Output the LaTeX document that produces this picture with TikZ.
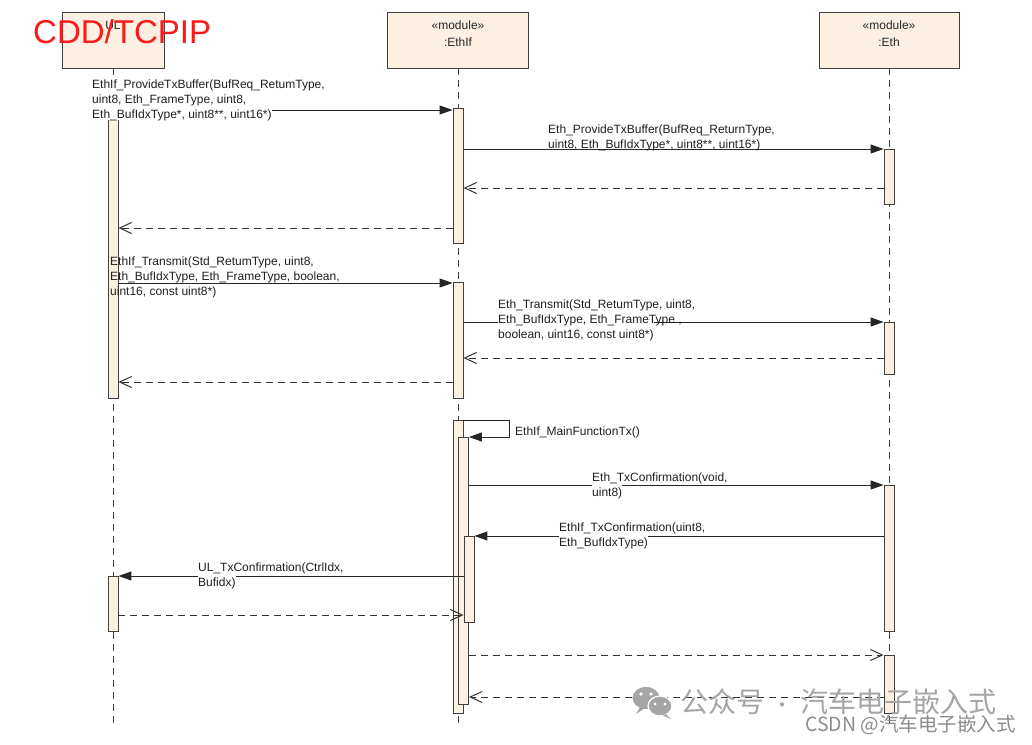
\documentclass[tikz,border=0pt]{standalone}
\usepackage{fontspec}
\setmainfont{Liberation Sans}
\newfontfamily\cjk{Noto Sans CJK SC}
\usetikzlibrary{arrows.meta}
\definecolor{beige}{RGB}{251,240,226}
\definecolor{redt}{RGB}{250,25,25}
\definecolor{wm}{RGB}{165,165,165}
\definecolor{wmb}{RGB}{140,140,140}
\begin{document}
\begin{tikzpicture}[x=1pt,y=-1pt,
  obj/.style={draw=black!75, fill=beige, line width=0.9pt, inner sep=0},
  hdr/.style={font=\fontsize{12}{17}\selectfont, align=center, anchor=north, inner sep=0, text=black!85},
  act/.style={draw=black!75, fill=beige, line width=0.9pt, minimum width=10pt, inner sep=0, anchor=north},
  life/.style={draw=black!75, line width=1pt, dash pattern=on 7pt off 5pt},
  sync/.style={draw=black!85, line width=1pt, -{Triangle[length=13pt,width=9pt]}},
  ret/.style={draw=black!80, line width=1pt, dash pattern=on 7pt off 5pt, -{Straight Barb[length=12pt,width=11pt]}},
  lbl/.style={font=\fontsize{12}{14.7}\selectfont, align=left, anchor=north west, inner sep=0, text=black!88},
  wbox/.style={fill=white, inner sep=0, anchor=north west, font=\fontsize{12}{14.7}\selectfont},
]
\fill[white] (0,0) rectangle (1032,744);
\useasboundingbox (0,0) rectangle (1032,744);

% objects
\node[obj, minimum width=102pt, minimum height=56pt] (ul) at (113,40) {};
\node[obj, minimum width=141pt, minimum height=56pt] (ethif) at (458,40) {};
\node[obj, minimum width=140pt, minimum height=56pt] (eth) at (889,40) {};
\node[hdr] (ult) at ([yshift=-9pt]ul.north) {UL};
\node[hdr] (ethift) at ([yshift=-9pt]ethif.north) {«module»\\:EthIf};
\node[hdr] (etht) at ([yshift=-9pt]eth.north) {«module»\\:Eth};

% lifelines
\coordinate (ulend) at (113,727);
\coordinate (ifend) at (458,727);
\coordinate (ethend) at (889,727);
\draw[life] (ul.south) -- (ulend);
\draw[life] (ethif.south) -- (ifend);
\draw[life] (eth.south) -- (ethend);

% activations
\node[act, minimum height=280pt] (ulA1) at (113,118) {};
\node[act, minimum height=55pt] (ulA2) at (113,576) {};
\node[act, minimum height=135pt] (ifA1) at (458,108) {};
\node[act, minimum height=116pt] (ifA2) at (458,282) {};
\node[act, minimum height=293pt] (ifA3) at (458,420) {};
\node[act, minimum height=267pt] (ifA4) at (463.5,437) {};
\node[act, minimum height=86pt] (ifA5) at (469,536) {};
\node[act, minimum height=55pt] (ethA1) at (889,149) {};
\node[act, minimum height=52pt] (ethA2) at (889,322) {};
\node[act, minimum height=146pt] (ethA3) at (889,485) {};
\node[act, minimum height=58pt] (ethA4) at (889,655) {};

% message levels
\coordinate (m1) at (0,110);
\coordinate (m2) at (0,149);
\coordinate (r1) at (0,188);
\coordinate (r2) at (0,228);
\coordinate (m3) at (0,283);
\coordinate (m4) at (0,322);
\coordinate (r3) at (0,358);
\coordinate (r4) at (0,382);
\coordinate (sc) at (509,420);
\coordinate (m5) at (0,485);
\coordinate (m6) at (0,536);
\coordinate (m7) at (0,576);
\coordinate (r5) at (0,615);
\coordinate (r6) at (0,655);
\coordinate (r7) at (0,697);

% messages
\draw[sync] (ulA1.north |- m1) -- (ifA1.west |- m1);
\draw[sync] (ifA1.east |- m2) -- (ethA1.west |- m2);
\draw[ret] (ethA1.west |- r1) -- (ifA1.east |- r1);
\draw[ret] (ifA1.west |- r2) -- (ulA1.east |- r2);
\draw[sync] (ulA1.east |- m3) -- (ifA2.west |- m3);
\draw[sync] (ifA2.east |- m4) -- (ethA2.west |- m4);
\draw[ret] (ethA2.west |- r3) -- (ifA2.east |- r3);
\draw[ret] (ifA2.west |- r4) -- (ulA1.east |- r4);
\draw[sync] (ifA3.north east) -- (sc) |- (ifA4.north east);
\draw[sync] (ifA4.east |- m5) -- (ethA3.west |- m5);
\draw[sync] (ethA3.west |- m6) -- (ifA5.east |- m6);
\draw[sync] (ifA5.west |- m7) -- (ulA2.east |- m7);
\draw[ret] (ulA2.east |- r5) -- (ifA5.west |- r5);
\draw[ret] (ifA4.east |- r6) -- (ethA4.west |- r6);
\draw[ret] (ethA4.west |- r7) -- (ifA4.east |- r7);

% labels
\node[wbox, minimum height=40pt] (w1) at (92,80) {\phantom{Eth\_BufIdxType*, uint8**, uint16*)}};
\node[lbl] (L1) at (92,80) {EthIf\_ProvideTxBuffer(BufReq\_RetumType,\\uint8, Eth\_FrameType, uint8,\\Eth\_BufIdxType*, uint8**, uint16*)};
\node[lbl] (L2) at (548,125) {Eth\_ProvideTxBuffer(BufReq\_ReturnType,\\uint8, Eth\_BufIdxType*, uint8**, uint16*)};
\node[lbl] (L3) at (110,257) {EthIf\_Transmit(Std\_RetumType, uint8,\\Eth\_BufIdxType, Eth\_FrameType, boolean,\\uint16, const uint8*)};
\node[wbox, minimum height=42pt] (w4) at (498,300) {\phantom{boolean, uint16, const uint8*)}};
\node[lbl] (L4) at (498,300) {Eth\_Transmit(Std\_RetumType, uint8,\\Eth\_BufIdxType, Eth\_FrameType ,\\boolean, uint16, const uint8*)};
\node[lbl] (L5) at (515,427) {EthIf\_MainFunctionTx()};
\node[wbox, minimum height=28pt] (w6) at (592,473) {\phantom{uint8)}};
\node[lbl] (L6) at (592,473) {Eth\_TxConfirmation(void,\\uint8)};
\node[wbox, minimum height=28pt] (w7) at (559,523) {\phantom{Eth\_BufIdxType)}};
\node[lbl] (L7) at (559,523) {EthIf\_TxConfirmation(uint8,\\Eth\_BufIdxType)};
\node[wbox, minimum height=28pt] (w8) at (198,563) {\phantom{Bufidx)}};
\node[lbl] (L8) at (198,563) {UL\_TxConfirmation(CtrlIdx,\\Bufidx)};

% red title overlay
\node[anchor=base west, inner sep=0, font=\fontsize{33}{33}\selectfont, text=redt] (title) at (33,43) {CDD/TCPIP};

% watermark
\fill[wm] (646,698) ellipse (13.5pt and 11pt);
\fill[wm] (640,707) -- (636,714) -- (645,708) -- cycle;
\fill[white] (641,694) circle (1.8pt);
\fill[white] (651,694) circle (1.8pt);
\filldraw[fill=wm, draw=white, line width=1.3pt] (660,706) ellipse (12pt and 10pt);
\fill[wm] (666,714) -- (671,719) -- (663,715.5) -- cycle;
\fill[white] (655,704) circle (1.6pt);
\fill[white] (665,704) circle (1.6pt);
\node[anchor=west, inner sep=0, font=\cjk\fontsize{28}{28}\selectfont, text=wm] (wmt) at (680,702) {公众号\hspace{8pt}{\fontsize{20}{20}\selectfont ·}\hspace{8pt}汽车电子嵌入式};
\node[anchor=base west, inner sep=0, font=\cjk\fontsize{19.5}{19.5}\selectfont, text=wmb] (csdn) at (805,731) {CSDN @汽车电子嵌入式};
\end{tikzpicture}
\end{document}
